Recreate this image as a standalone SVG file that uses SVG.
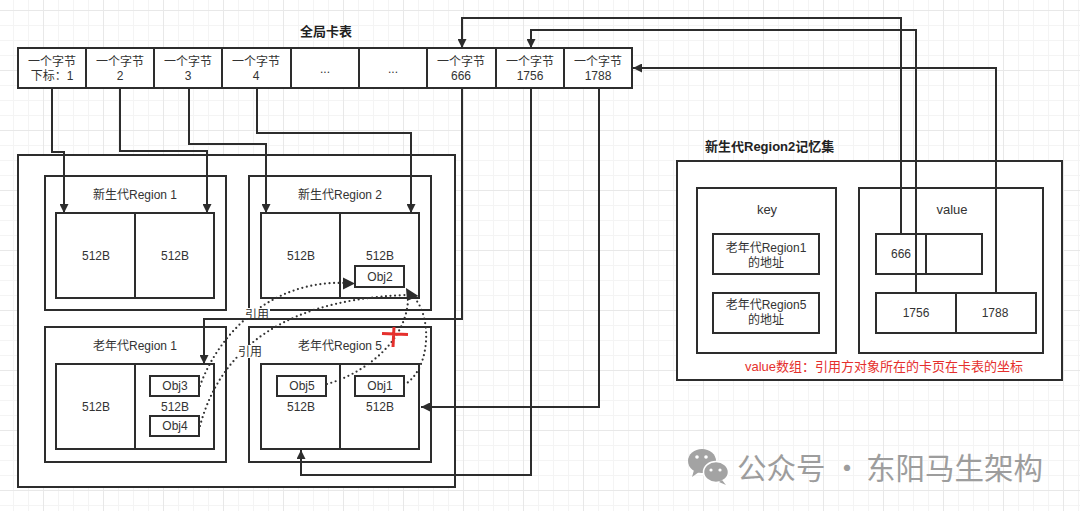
<svg xmlns="http://www.w3.org/2000/svg" width="1080" height="511" viewBox="0 0 1080 511">
<style>
.b{fill:#fff;stroke:#2d2d2d;stroke-width:2}
.n{fill:none;stroke:#2d2d2d;stroke-width:2}
.t{font-family:"Liberation Sans","Noto Sans CJK SC",sans-serif;font-size:12px;fill:#333;text-anchor:middle}
.k{font-size:13px}
.h{font-family:"Liberation Sans","Noto Sans CJK SC",sans-serif;font-size:13px;font-weight:bold;fill:#222}
.c{fill:none;stroke:#2d2d2d;stroke-width:2}
.d{fill:none;stroke:#333;stroke-width:2.2;stroke-dasharray:0 4.6;stroke-linecap:round}
.r{font-family:"Liberation Sans","Noto Sans CJK SC",sans-serif;font-size:13px;fill:#e5302d}
.w{font-family:"Noto Sans CJK SC","Liberation Sans",sans-serif;font-size:29.5px;fill:#9d9d9d}
</style>
<defs>
<pattern id="grid" x="43" y="10" width="60" height="60" patternUnits="userSpaceOnUse">
<path d="M15.5,0V60M30.5,0V60M45.5,0V60M0,15.5H60M0,30.5H60M0,45.5H60" stroke="#f4f4f4" stroke-width="1"/>
<path d="M0.5,0V60M0,0.5H60" stroke="#e8e8e8" stroke-width="1"/>
</pattern>
<marker id="arr" viewBox="0 0 10 10" refX="10" refY="5" markerWidth="10" markerHeight="9" markerUnits="userSpaceOnUse" orient="auto">
<path d="M0,0L10,5L0,10z" fill="#2d2d2d"/>
</marker>
</defs>
<rect width="1080" height="511" fill="#fff"/>
<rect width="1080" height="511" fill="url(#grid)"/>

<text class="h" x="326" y="36" text-anchor="middle">全局卡表</text>

<g id="cardtable">
<rect class="b" x="18" y="48" width="614" height="40"/>
<path class="n" d="M86,48V88M154,48V88M222,48V88M291,48V88M359,48V88M427,48V88M496,48V88M564,48V88"/>
<text class="t" x="52" y="66">一个字节</text><text class="t" x="52" y="80">下标：1</text>
<text class="t" x="120" y="66">一个字节</text><text class="t" x="120" y="80">2</text>
<text class="t" x="188" y="66">一个字节</text><text class="t" x="188" y="80">3</text>
<text class="t" x="256" y="66">一个字节</text><text class="t" x="256" y="80">4</text>
<text class="t" x="325" y="73" fill="#777">...</text>
<text class="t" x="393" y="73" fill="#777">...</text>
<text class="t" x="461" y="66">一个字节</text><text class="t" x="461" y="80">666</text>
<text class="t" x="530" y="66">一个字节</text><text class="t" x="530" y="80">1756</text>
<text class="t" x="598" y="66">一个字节</text><text class="t" x="598" y="80">1788</text>
</g>

<g id="heap">
<rect class="b" x="18" y="155" width="437" height="332"/>
</g>

<g id="young1">
<rect class="b" x="45" y="176" width="181" height="134"/>
<text class="t" x="135" y="199">新生代Region 1</text>
<rect class="b" x="56" y="213" width="158" height="85"/>
<path class="n" d="M135,213V298"/>
<text class="t" x="96" y="260">512B</text>
<text class="t" x="175" y="260">512B</text>
</g>

<g id="young2">
<rect class="b" x="249" y="176" width="182" height="134"/>
<text class="t" x="340" y="199">新生代Region 2</text>
<rect class="b" x="261" y="213" width="158" height="85"/>
<path class="n" d="M340,213V298"/>
<text class="t" x="301" y="260">512B</text>
<text class="t" x="380" y="260">512B</text>
<g id="obj2"><rect class="b" x="355" y="266" width="49" height="21"/><text class="t" x="380" y="281">Obj2</text></g>
</g>

<g id="old1">
<rect class="b" x="45" y="327" width="181" height="135"/>
<text class="t" x="135" y="350">老年代Region 1</text>
<rect class="b" x="56" y="364" width="158" height="85"/>
<path class="n" d="M135,364V449"/>
<text class="t" x="96" y="411">512B</text>
<text class="t" x="175" y="411">512B</text>
<g id="obj3"><rect class="b" x="150" y="376" width="49" height="20"/><text class="t" x="175" y="390">Obj3</text></g>
<g id="obj4"><rect class="b" x="150" y="416" width="49" height="20"/><text class="t" x="175" y="430">Obj4</text></g>
</g>

<g id="old5">
<rect class="b" x="249" y="327" width="182" height="135"/>
<text class="t" x="340" y="350">老年代Region 5</text>
<rect class="b" x="261" y="364" width="158" height="85"/>
<path class="n" d="M340,364V449"/>
<text class="t" x="301" y="411">512B</text>
<text class="t" x="380" y="411">512B</text>
<g id="obj5"><rect class="b" x="277" y="376" width="49" height="20"/><text class="t" x="302" y="390">Obj5</text></g>
<g id="obj1"><rect class="b" x="355" y="376" width="49" height="20"/><text class="t" x="380" y="390">Obj1</text></g>
</g>

<text class="h" x="705" y="151">新生代Region2记忆集</text>
<g id="rset">
<rect class="b" x="677" y="161" width="385" height="219"/>
<text class="r" x="745" y="371">value数组：引用方对象所在的卡页在卡表的坐标</text>
</g>
<g id="key">
<rect class="b" x="697" y="188" width="139" height="165"/>
<text class="t k" x="767" y="214">key</text>
<rect class="b" x="713" y="234" width="106" height="40"/>
<text class="t" x="766" y="252">老年代Region1</text><text class="t" x="766" y="267">的地址</text>
<rect class="b" x="713" y="293" width="106" height="40"/>
<text class="t" x="766" y="309">老年代Region5</text><text class="t" x="766" y="324">的地址</text>
</g>
<g id="value">
<rect class="b" x="859" y="188" width="184" height="165"/>
<text class="t k" x="952" y="214">value</text>
<rect class="b" x="876" y="234" width="106" height="40"/>
<path class="n" d="M926,234V274"/>
<text class="t" x="901" y="258">666</text>
<rect class="b" x="876" y="293" width="160" height="40"/>
<path class="n" d="M956,293V333"/>
<text class="t" x="916" y="317">1756</text>
<text class="t" x="995" y="317">1788</text>
</g>

<g id="connectors">
<path class="c" marker-end="url(#arr)" d="M52,88V152H64V213"/>
<path class="c" marker-end="url(#arr)" d="M120,88V151H207V213"/>
<path class="c" marker-end="url(#arr)" d="M189,88V144H266V213"/>
<path class="c" marker-end="url(#arr)" d="M257,88V133H411V213"/>
<path class="c" marker-end="url(#arr)" d="M462,88V319H204V364"/>
<path class="c" marker-end="url(#arr)" d="M531,88V475H301V450"/>
<path class="c" marker-end="url(#arr)" d="M599,88V407H421"/>
<path class="c" marker-end="url(#arr)" d="M901,234V18H462V48"/>
<path class="c" marker-end="url(#arr)" d="M916,293V30H531V48"/>
<path class="c" marker-end="url(#arr)" d="M996,293V68H633"/>
<path class="d" d="M200,386C218,335 270,280 345,283"/>
<path d="M343,277.5L355,283.5L343,289.5z" fill="#2d2d2d"/>
<path class="d" d="M200,426C215,370 260,300 407,295"/>
<path class="d" d="M327,384C360,375 405,345 408,301"/>
<path class="d" d="M404,385C430,370 432,320 416,300"/>
<path d="M406,288L418.5,296L407,301z" fill="#2d2d2d"/>
<path d="M382,333.5L408,334.5M394,327L393,347" stroke="#e5302d" stroke-width="3" fill="none"/>
</g>

<g id="labels">
<rect x="245" y="308" width="25" height="10" fill="#fff"/>
<text class="t" x="257" y="319">引用</text>
<rect x="238" y="345" width="25" height="13" fill="#fff"/>
<text class="t" x="250" y="356">引用</text>
</g>

<g id="watermark">
<ellipse cx="702" cy="461" rx="14" ry="12" fill="#a3a3a3"/>
<path d="M694,470L692,477L699,472z" fill="#a3a3a3"/>
<ellipse cx="716" cy="472" rx="12.5" ry="10.5" fill="#a3a3a3" stroke="#fff" stroke-width="1.5"/>
<path d="M722,480L726,485L719,482z" fill="#a3a3a3"/>
<circle cx="697" cy="457" r="1.8" fill="#fff"/><circle cx="706" cy="457" r="1.8" fill="#fff"/>
<circle cx="711" cy="470" r="1.6" fill="#fff"/><circle cx="720" cy="470" r="1.6" fill="#fff"/>
<text class="w" x="737" y="479">公众号</text>
<text class="w" x="847" y="479" text-anchor="middle">·</text>
<text class="w" x="866" y="479">东阳马生架构</text>
</g>
</svg>
